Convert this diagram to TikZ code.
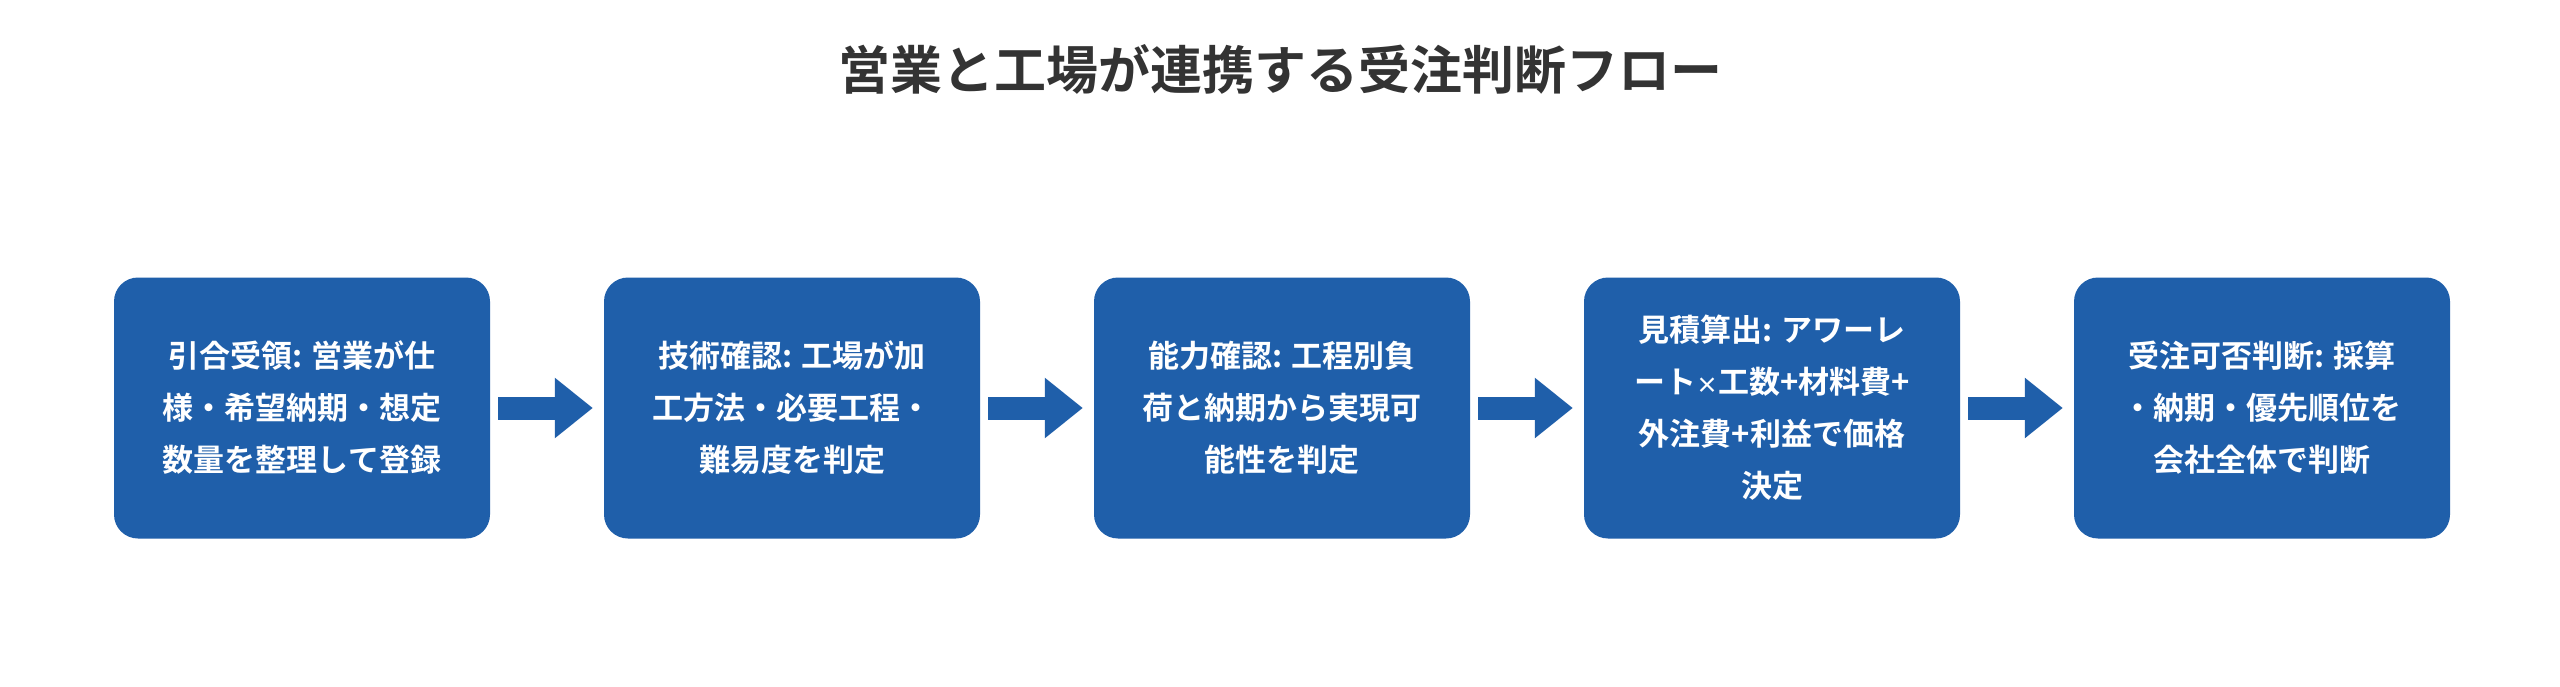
\documentclass[tikz,border=0pt]{standalone}
\usepackage{fontspec}
\setmainfont{Noto Sans CJK JP}[BoldFont={* Bold}]
\usetikzlibrary{arrows.meta}
\definecolor{boxblue}{HTML}{1F5FAA}
\definecolor{titlegray}{HTML}{333333}
\begin{document}
\begin{tikzpicture}[x=1pt,y=1pt,
  box/.style={fill=boxblue,rounded corners=24pt,minimum width=376pt,minimum height=261pt,
    align=center,text=white,font=\fontsize{31}{52}\selectfont\bfseries},
  flow/.style={draw=boxblue,line width=23pt,-{Triangle[length=38pt,width=58pt]},shorten <=8pt,shorten >=11pt}]
\useasboundingbox (0,0) rectangle (2560,-687);
\fill[white] (0,0) rectangle (2560,-687);
\node[text=titlegray,font=\fontsize{52}{60}\selectfont\bfseries] (title) at (1280,-69) {営業と工場が連携する受注判断フロー};
\node[box] (b1) at (302,-408) {引合受領: 営業が仕\\様・希望納期・想定\\数量を整理して登録};
\node[box] (b2) at (792,-408) {技術確認: 工場が加\\工方法・必要工程・\\難易度を判定};
\node[box] (b3) at (1282,-408) {能力確認: 工程別負\\荷と納期から実現可\\能性を判定};
\node[box] (b4) at (1772,-408) {見積算出: アワーレ\\ート{\fontsize{22}{52}\selectfont ×}工数+材料費+\\外注費+利益で価格\\決定};
\node[box] (b5) at (2262,-408) {受注可否判断: 採算\\・納期・優先順位を\\会社全体で判断};
\draw[flow] (b1.east) -- (b2.west);
\draw[flow] (b2.east) -- (b3.west);
\draw[flow] (b3.east) -- (b4.west);
\draw[flow] (b4.east) -- (b5.west);
\end{tikzpicture}
\end{document}
